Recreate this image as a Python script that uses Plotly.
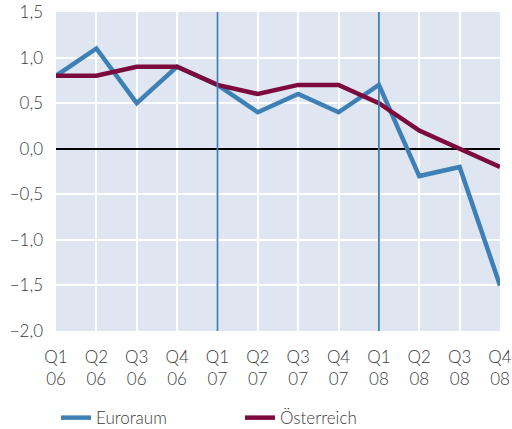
import plotly.graph_objects as go

categories = ["Q1<br>06", "Q2<br>06", "Q3<br>06", "Q4<br>06",
              "Q1<br>07", "Q2<br>07", "Q3<br>07", "Q4<br>07",
              "Q1<br>08", "Q2<br>08", "Q3<br>08", "Q4<br>08"]
euroraum = [0.8, 1.1, 0.5, 0.9, 0.7, 0.4, 0.6, 0.4, 0.7, -0.3, -0.2, -1.5]
oesterreich = [0.8, 0.8, 0.9, 0.9, 0.7, 0.6, 0.7, 0.7, 0.5, 0.2, 0.0, -0.2]
y_ticks = [1.5, 1.0, 0.5, 0.0, -0.5, -1.0, -1.5, -2.0]
y_ticktext = ["1,5", "1,0", "0,5", "0,0", "−0,5", "−1,0", "−1,5", "−2,0"]
markers = ["Q1<br>07", "Q1<br>08"]

BLUE = "#3e80b5"
RED = "#7d0a3d"
FONT = "Lato"

fig = go.Figure()
fig.add_trace(go.Scatter(x=categories, y=euroraum, name="Euroraum", mode="lines",
                         line=dict(color=BLUE, width=4.5)))
fig.add_trace(go.Scatter(x=categories, y=oesterreich, name="Österreich", mode="lines",
                         line=dict(color=RED, width=4.5)))

for m in markers:
    fig.add_shape(type="line", xref="x", yref="paper", x0=m, x1=m, y0=0, y1=1,
                  line=dict(color=BLUE, width=1.8), layer="above")

fig.update_layout(
    width=512, height=429,
    margin=dict(l=56, r=12, t=12, b=98, autoexpand=False),
    paper_bgcolor="white",
    plot_bgcolor="#dfe6f1",
    font=dict(family=FONT, size=17, color="#3a3a3a", weight=300),
    showlegend=True,
    legend=dict(orientation="h", x=0.0, xanchor="left", y=-0.273, yanchor="middle",
                font=dict(size=17, weight=300), entrywidth=139, bgcolor="rgba(0,0,0,0)"),
)
fig.update_xaxes(type="category", range=[0, 11], showgrid=True, gridcolor="white",
                 gridwidth=2, showline=False, zeroline=False, ticks="",
                 ticklabelstandoff=14, automargin=False)
fig.update_yaxes(range=[-2.0, 1.5], tickvals=y_ticks, ticktext=y_ticktext,
                 showgrid=True, gridcolor="white", gridwidth=2, showline=False,
                 zeroline=True, zerolinecolor="black", zerolinewidth=1.5,
                 ticks="", ticklabelstandoff=12, automargin=False)

fig.write_html("out.html", config={"displayModeBar": False},
               post_script="document.body.style.margin='0';")
